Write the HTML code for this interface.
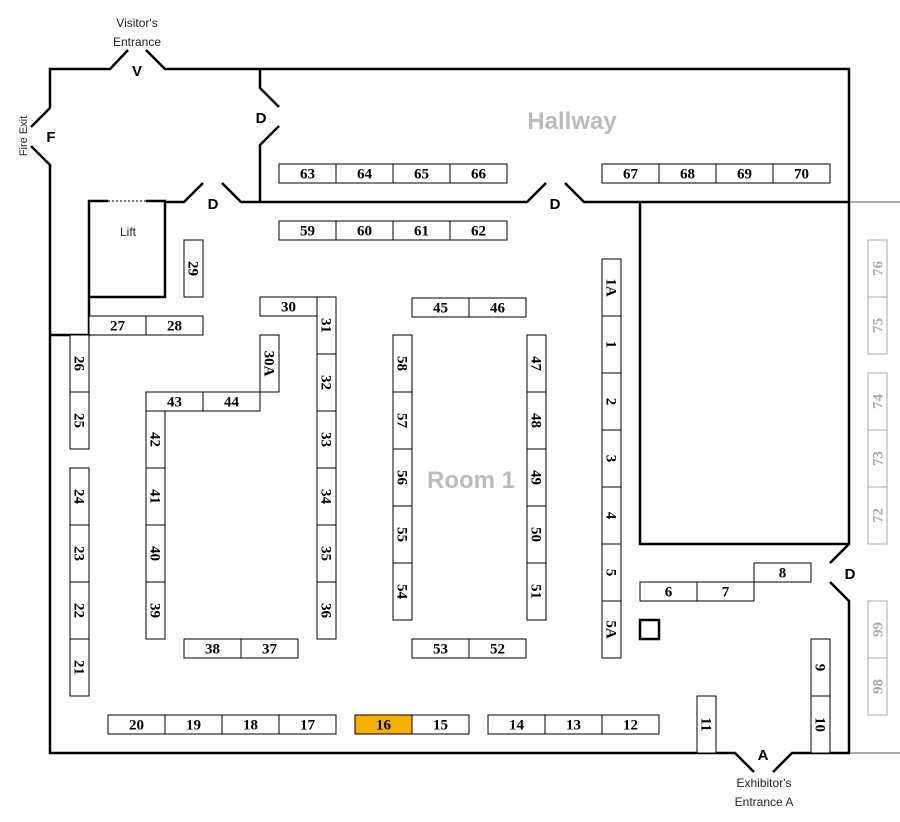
<!DOCTYPE html>
<html><head><meta charset="utf-8"><style>body{margin:0;background:#fff}svg{display:block}</style></head><body>
<svg width="900" height="822" viewBox="0 0 900 822" xmlns="http://www.w3.org/2000/svg">
<g fill="none" stroke="#000" stroke-width="2.5">
<polyline points="165,202 184,202 203,183"/>
<polyline points="222,183 241,202 527,202 546,183"/>
<polyline points="565,183 584,202 849,202"/>
<polyline points="640,202 640,544 849,544"/>
<polyline points="50,108 50,69 110,69 128,50"/>
<polyline points="146,50 165,69 849,69 849,544 830,563"/>
<polyline points="830,582 849,601 849,753 792,753 773,772"/>
<polyline points="754,772 735,753 50,753 50,165 31,146"/>
<line x1="50" y1="108" x2="31" y2="127"/>
<polyline points="260,69 260,88 279,107"/>
<polyline points="279,126 260,145 260,202"/>
<polyline points="108,201 89,201 89,335 50,335"/>
<polyline points="146,201 165,201 165,297 89,297"/>
<rect x="640" y="620" width="19" height="19"/>
</g>
<line x1="108" y1="201" x2="146" y2="201" stroke="#000" stroke-width="1" stroke-dasharray="2,2"/>
<g stroke="#aaa" stroke-width="2"><line x1="850" y1="202" x2="900" y2="202"/><line x1="850" y1="753" x2="900" y2="753"/></g>
<g font-family="Liberation Sans, sans-serif" font-size="12" fill="#222" text-anchor="middle">
<text x="137" y="27">Visitor's</text><text x="137" y="46">Entrance</text>
<text x="764" y="787">Exhibitor's</text><text x="764" y="806">Entrance A</text>
<text x="128" y="236">Lift</text>
<text transform="translate(27,136) rotate(-90)" font-size="11">Fire Exit</text>
</g>
<g font-family="Liberation Sans, sans-serif" font-weight="bold" font-size="15" fill="#000" text-anchor="middle">
<text x="137" y="76">V</text><text x="51" y="142">F</text><text x="261" y="123">D</text><text x="213" y="209">D</text><text x="555" y="209">D</text><text x="850" y="579">D</text><text x="763" y="760">A</text>
</g>
<g font-family="Liberation Sans, sans-serif" font-weight="bold" font-size="24" fill="#bbb" text-anchor="middle">
<text x="572" y="129">Hallway</text><text x="471" y="488">Room 1</text>
</g>
<g id="b" font-family="Liberation Serif, serif" font-weight="bold" font-size="15" text-anchor="middle"></g>
<script>
var g=document.getElementById('b'),NS='http://www.w3.org/2000/svg';
function box(x,y,w,h,t,o){o=o||{};var r=document.createElementNS(NS,'rect');r.setAttribute('x',x);r.setAttribute('y',y);r.setAttribute('width',w);r.setAttribute('height',h);r.setAttribute('fill',o.fill||'#fff');r.setAttribute('stroke',o.gray?'#aaa':'#000');r.setAttribute('stroke-width','1');g.appendChild(r);
var tx=document.createElementNS(NS,'text');var cx=x+w/2,cy=y+h/2;tx.textContent=t;tx.setAttribute('fill',o.gray?'#aaa':'#000');
if(w>h){tx.setAttribute('x',cx);tx.setAttribute('y',cy+5);}else{tx.setAttribute('transform','translate('+(cx-5*(o.gray?-1:1))+','+cy+') rotate('+(o.gray?-90:90)+')');tx.setAttribute('x',0);tx.setAttribute('y',0);}
g.appendChild(tx);}
function row(x,y,list,o){list.forEach(function(t,i){box(x+57*i,y,57,19,t,o)})}
function col(x,y,list,o){list.forEach(function(t,i){box(x,y+57*i,19,57,t,o)})}
row(279,164,['63','64','65','66']);row(602,164,['67','68','69','70']);row(279,221,['59','60','61','62']);
col(602,259,['1A','1','2','3','4','5','5A']);col(527,335,['47','48','49','50','51']);col(393,335,['58','57','56','55','54']);
row(412,298,['45','46']);row(412,639,['53','52']);col(317,297,['31','32','33','34','35','36']);
row(260,297,['30']);col(260,335,['30A']);row(146,392,['43','44']);col(146,411,['42','41','40','39']);
row(184,639,['38','37']);col(184,240,['29']);row(89,316,['27','28']);col(70,335,['26','25']);col(70,468,['24','23','22','21']);
row(108,715,['20','19','18','17']);box(355,715,57,19,'16',{fill:'#f5b000'});row(412,715,['15']);row(488,715,['14','13','12']);
col(697,696,['11']);col(811,639,['9','10']);row(640,582,['6','7']);row(754,563,['8']);
col(868,240,['76','75'],{gray:1});col(868,373,['74','73','72'],{gray:1});col(868,601,['99','98'],{gray:1});
</script>
</svg>
</body></html>
